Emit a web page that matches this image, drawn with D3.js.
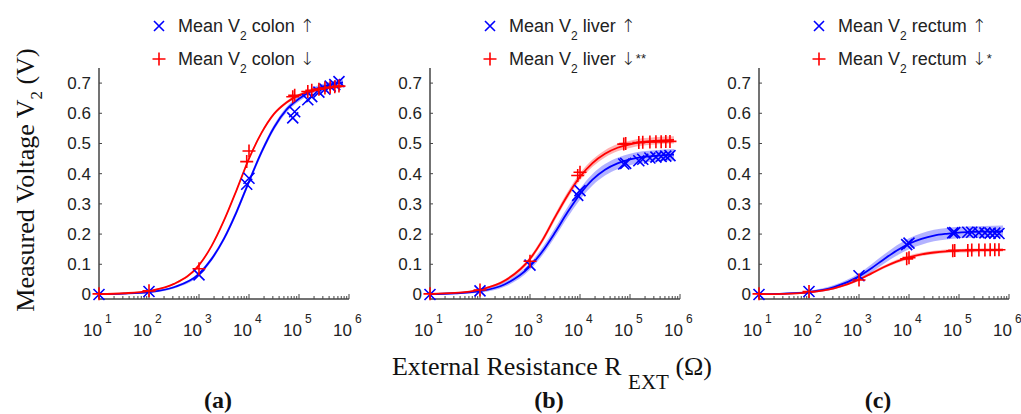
<!DOCTYPE html>
<meta charset="utf-8">
<style>
body { margin: 0; background: #fff; }
svg { display: block; }
.tick-label { font-family: "Liberation Sans", Arial, sans-serif; fill: #222; }
.serif { font-family: "Liberation Serif", "Times New Roman", serif; fill: #111; }
.arrow { font-family: "DejaVu Sans", sans-serif; font-weight: 300; }
</style>
<svg width="1021" height="414"></svg>
<script src="https://d3js.org/d3.v7.min.js"></script>
<script>

// measured points (resistance in ohm, voltage in V)
const markerR = [10, 100, 1000, 9000, 10000, 75000, 82000, 150000, 180000, 250000, 330000, 420000, 520000, 630000];
const colonUp = [0, 0.01, 0.065, 0.365, 0.385, 0.585, 0.605, 0.645, 0.655, 0.67, 0.68, 0.69, 0.695, 0.705];
const colonDown = [0.002, 0.012, 0.085, 0.44, 0.475, 0.655, 0.66, 0.672, 0.676, 0.68, 0.684, 0.686, 0.688, 0.69];
const liverUp = [0, 0.012, 0.097, 0.328, 0.344, 0.432, 0.434, 0.443, 0.448, 0.452, 0.455, 0.457, 0.458, 0.46];
const liverDown = [0.002, 0.015, 0.11, 0.394, 0.405, 0.498, 0.5, 0.503, 0.504, 0.505, 0.506, 0.506, 0.507, 0.507];
const rectumUp = [0, 0.01, 0.062, 0.165, 0.17, 0.204, 0.205, 0.206, 0.206, 0.205, 0.204, 0.203, 0.203, 0.202];
const rectumDown = [0.002, 0.01, 0.048, 0.118, 0.122, 0.145, 0.146, 0.146, 0.147, 0.147, 0.147, 0.148, 0.148, 0.148];

// fitted curves
const curveR = [10, 31.6, 100, 316, 1000, 1778, 3162, 5623, 10000, 17783, 31623, 56234, 100000, 177828, 316228, 758578];
const colonUpFit = [0.001, 0.003, 0.008, 0.024, 0.068, 0.117, 0.185, 0.273, 0.374, 0.471, 0.553, 0.612, 0.648, 0.674, 0.69, 0.702];
const colonDownFit = [0.001, 0.004, 0.012, 0.035, 0.097, 0.16, 0.245, 0.345, 0.45, 0.535, 0.598, 0.636, 0.66, 0.674, 0.684, 0.69];
const liverUpFit = [0.001, 0.004, 0.011, 0.034, 0.093, 0.143, 0.205, 0.272, 0.332, 0.38, 0.413, 0.434, 0.447, 0.455, 0.459, 0.463];
const liverDownFit = [0.002, 0.005, 0.016, 0.046, 0.118, 0.18, 0.256, 0.328, 0.39, 0.435, 0.466, 0.486, 0.497, 0.505, 0.509, 0.512];
const rectumUpFit = [0.001, 0.003, 0.008, 0.024, 0.06, 0.087, 0.117, 0.145, 0.168, 0.184, 0.195, 0.201, 0.205, 0.207, 0.208, 0.209];
const rectumDownFit = [0.001, 0.002, 0.007, 0.02, 0.049, 0.07, 0.091, 0.109, 0.123, 0.133, 0.139, 0.143, 0.145, 0.146, 0.147, 0.148];

// half widths of the shaded bands
const colonUpCI = [0.002, 0.002, 0.003, 0.004, 0.006, 0.007, 0.008, 0.009, 0.009, 0.009, 0.009, 0.009, 0.009, 0.009, 0.009, 0.009];
const colonDownCI = [0.002, 0.002, 0.002, 0.003, 0.004, 0.004, 0.005, 0.005, 0.005, 0.005, 0.005, 0.005, 0.005, 0.005, 0.005, 0.005];
const liverUpCI = [0.002, 0.003, 0.005, 0.008, 0.011, 0.013, 0.015, 0.017, 0.018, 0.019, 0.019, 0.019, 0.019, 0.019, 0.019, 0.019];
const liverDownCI = [0.002, 0.002, 0.003, 0.005, 0.008, 0.009, 0.01, 0.011, 0.012, 0.012, 0.012, 0.012, 0.012, 0.012, 0.012, 0.012];
const rectumUpCI = [0.002, 0.003, 0.004, 0.007, 0.01, 0.013, 0.015, 0.017, 0.018, 0.019, 0.019, 0.019, 0.019, 0.019, 0.019, 0.019];
const rectumDownCI = [0.002, 0.002, 0.003, 0.003, 0.004, 0.005, 0.005, 0.006, 0.006, 0.006, 0.006, 0.006, 0.006, 0.006, 0.006, 0.006];

const tissues = ["colon", "liver", "rectum"];
const downStars = ["", "**", "*"];
const panelTags = ["(a)", "(b)", "(c)"];
const yTicks = [0, 0.1, 0.2, 0.3, 0.4, 0.5, 0.6, 0.7];
const xTickExps = [1, 2, 3, 4, 5, 6];

const blue = "#0000ff", red = "#ff0000", axisColor = "#444";

const panels = [
  { x0: 99,  up: colonUp,  down: colonDown,  upFit: colonUpFit,  downFit: colonDownFit,  upCI: colonUpCI,  downCI: colonDownCI },
  { x0: 430, up: liverUp,  down: liverDown,  upFit: liverUpFit,  downFit: liverDownFit,  upCI: liverUpCI,  downCI: liverDownCI },
  { x0: 759, up: rectumUp, down: rectumDown, upFit: rectumUpFit, downFit: rectumDownFit, upCI: rectumUpCI, downCI: rectumDownCI }
];

const svg = d3.select("svg");
const y = d3.scaleLinear().domain([-0.015, 0.75]).range([299, 68]);

function xMark(g, cx, cy, s) {
  g.append("path")
    .attr("d", `M${cx - s},${cy - s}L${cx + s},${cy + s}M${cx - s},${cy + s}L${cx + s},${cy - s}`)
    .attr("stroke", blue).attr("stroke-width", 1.6).attr("fill", "none");
}
function plusMark(g, cx, cy, s) {
  g.append("path")
    .attr("d", `M${cx - s},${cy}L${cx + s},${cy}M${cx},${cy - s}L${cx},${cy + s}`)
    .attr("stroke", red).attr("stroke-width", 1.6).attr("fill", "none");
}

panels.forEach((p, i) => {
  const x = d3.scaleLog().domain([10, 1e6]).range([p.x0, p.x0 + 250]);
  const g = svg.append("g");

  // axes
  g.append("line").attr("x1", p.x0).attr("x2", p.x0).attr("y1", 68).attr("y2", 299)
    .attr("stroke", axisColor).attr("stroke-width", 1.5);
  g.append("line").attr("x1", p.x0).attr("x2", x(1e6)).attr("y1", 299).attr("y2", 299)
    .attr("stroke", axisColor).attr("stroke-width", 1.5);

  yTicks.forEach(t => {
    g.append("line").attr("x1", p.x0).attr("x2", p.x0 + 3).attr("y1", y(t)).attr("y2", y(t))
      .attr("stroke", axisColor);
    g.append("text").attr("class", "tick-label").attr("x", p.x0 - 8).attr("y", y(t) + 6)
      .attr("text-anchor", "end").attr("font-size", 17).text(t === 0 ? "0" : d3.format(".1f")(t));
  });

  x.ticks().forEach(t => {
    const major = Math.abs(Math.log10(t) - Math.round(Math.log10(t))) < 1e-9;
    g.append("line").attr("x1", x(t)).attr("x2", x(t)).attr("y1", 299).attr("y2", major ? 294 : 296)
      .attr("stroke", axisColor);
  });

  xTickExps.forEach(e => {
    const tx = x(Math.pow(10, e));
    g.append("text").attr("class", "tick-label").attr("x", tx + 3).attr("y", 336)
      .attr("text-anchor", "end").attr("font-size", 17).text("10");
    g.append("text").attr("class", "tick-label").attr("x", tx + 6).attr("y", 323)
      .attr("font-size", 12).text(e);
  });

  // shaded bands and fitted curves
  const series = [
    { fit: p.upFit, ci: p.upCI, color: blue },
    { fit: p.downFit, ci: p.downCI, color: red }
  ];
  series.forEach(s => {
    const area = d3.area().curve(d3.curveMonotoneX)
      .x((d, k) => x(curveR[k]))
      .y0((d, k) => y(d - s.ci[k]))
      .y1((d, k) => y(d + s.ci[k]));
    g.append("path").attr("d", area(s.fit)).attr("fill", s.color).attr("fill-opacity", 0.3);
  });
  series.forEach(s => {
    const line = d3.line().curve(d3.curveMonotoneX)
      .x((d, k) => x(curveR[k])).y(d => y(d));
    g.append("path").attr("d", line(s.fit)).attr("fill", "none")
      .attr("stroke", s.color).attr("stroke-width", 1.8);
  });

  p.up.forEach((v, k) => xMark(g, x(markerR[k]), y(v), 5.5));
  p.down.forEach((v, k) => plusMark(g, x(markerR[k]), y(v), 6.5));

  // legend
  const lx = p.x0 + 60;
  const rows = [
    { mark: xMark, arrow: "\u2191", stars: "", cy: 26 },
    { mark: plusMark, arrow: "\u2193", stars: downStars[i], cy: 59 }
  ];
  rows.forEach((r, k) => {
    r.mark(g, lx, r.cy, k === 0 ? 5 : 6.5);
    const t = g.append("text").attr("class", "tick-label").attr("x", lx + 19).attr("y", r.cy + 6)
      .attr("font-size", 18);
    t.append("tspan").text("Mean V");
    t.append("tspan").attr("font-size", 12).attr("dy", 8).text("2");
    t.append("tspan").attr("dy", -8).text(" " + tissues[i] + " ");
    t.append("tspan").attr("class", "arrow").text(r.arrow);
    if (r.stars) t.append("tspan").attr("font-size", 13).attr("dy", -2).text(r.stars);
  });

  g.append("text").attr("class", "serif").attr("x", (p.x0 + x(1e6)) / 2 - 6).attr("y", 408)
    .attr("text-anchor", "middle").attr("font-size", 24).attr("font-weight", "bold").text(panelTags[i]);
});

// axis titles
const yl = svg.append("text").attr("class", "serif").attr("font-size", 26)
  .attr("text-anchor", "middle").attr("transform", "translate(34,180) rotate(-90)");
yl.append("tspan").text("Measured Voltage V");
yl.append("tspan").attr("font-size", 17).attr("dy", 8).text("2");
yl.append("tspan").attr("dy", -8).text(" (V)");

const xl = svg.append("text").attr("class", "serif").attr("font-size", 26)
  .attr("text-anchor", "middle").attr("x", 552).attr("y", 375);
xl.append("tspan").text("External Resistance R ");
xl.append("tspan").attr("font-size", 21).attr("dy", 14).text("EXT");
xl.append("tspan").attr("dy", -14).text(" (\u03a9)");

</script>
